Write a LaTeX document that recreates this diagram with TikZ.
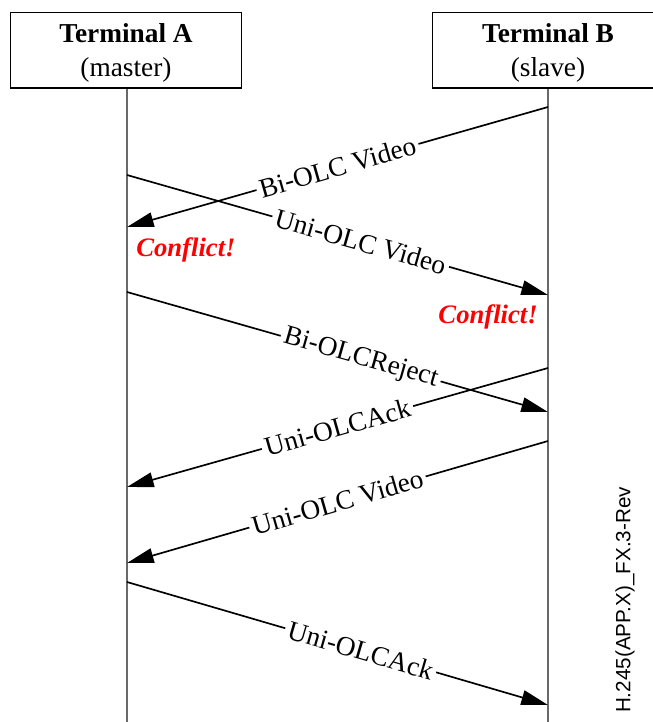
\documentclass[tikz,border=0pt]{standalone}
\usepackage{fontspec}
\setmainfont{Liberation Serif}
\newfontfamily\tagfont{Liberation Sans}
\usetikzlibrary{arrows.meta}
\definecolor{conflict}{RGB}{255,0,0}
\definecolor{lifeline}{RGB}{105,105,105}

\tikzset{
  terminal/.style = {draw, line width=1pt, minimum width=173.25pt, minimum height=56.6pt,
                     align=center, inner sep=0pt, font=\fontsize{20.5}{25.5}\selectfont},
  msg/.style = {line width=1.25pt, -{Triangle[length=20pt,width=11pt]}},
  msglabel/.style = {sloped, fill=white, inner sep=2.5pt, font=\fontsize{20.5}{23}\selectfont},
  clash/.style = {text=conflict, font=\fontsize{20}{23}\selectfont\bfseries\itshape, inner sep=0pt}
}

\begin{document}
\begin{tikzpicture}[x=0.75pt, y=-0.75pt]
  \useasboundingbox (0,0) rectangle (653,722);
  \clip (0,0) rectangle (653,722);

  % terminals and lifelines
  \node[terminal] (termA) at (126,50.4) {\rule{0pt}{18.5pt}\textbf{Terminal A}\\(master)};
  \node[terminal] (termB) at (548,50.4) {\rule{0pt}{18.5pt}\textbf{Terminal B}\\(slave)};
  \coordinate (endA) at (127,722);
  \coordinate (endB) at (548,722);
  \draw[lifeline, line width=0.8pt] (termA.south -| endA) -- (endA);
  \draw[lifeline, line width=0.8pt] (termB.south) -- (endB);

  % message end points
  \coordinate (b1) at (548,107);  \coordinate (a1) at (127,227);
  \coordinate (a2) at (127,175);  \coordinate (b2) at (548,295);
  \coordinate (a3) at (127,292);  \coordinate (b3) at (548,412);
  \coordinate (b4) at (548,368);  \coordinate (a4) at (127,487);
  \coordinate (b5) at (548,441);  \coordinate (a5) at (127,563);
  \coordinate (a6) at (127,582);  \coordinate (b6) at (548,705);

  % messages
  \draw[msg] (b1) -- node[msglabel, pos=0.5] (m1) {Bi-OLC Video} (a1);
  \draw[msg] (a2) -- node[msglabel, pos=0.555] (m2) {Uni-OLC Video} (b2);
  \draw[msg] (a3) -- node[msglabel, pos=0.555] (m3) {Bi-OLCReject} (b3);
  \draw[msg] (b4) -- node[msglabel, pos=0.5] (m4) {Uni-OLCAck} (a4);
  \draw[msg] (b5) -- node[msglabel, pos=0.5] (m5) {Uni-OLC Video} (a5);
  \draw[msg] (a6) -- node[msglabel, pos=0.555] (m6) {Uni-OLCAck} (b6);

  % conflicts
  \node[clash, anchor=west] (clashA) at (136,250) {Conflict!};
  \node[clash, anchor=east] (clashB) at (538,317) {Conflict!};

  % figure tag
  \node[rotate=90, inner sep=0pt, font=\tagfont\fontsize{15.5}{18}\selectfont] (figtag) at (625,600) {H.245(APP.X)\_FX.3-Rev};
\end{tikzpicture}
\end{document}
